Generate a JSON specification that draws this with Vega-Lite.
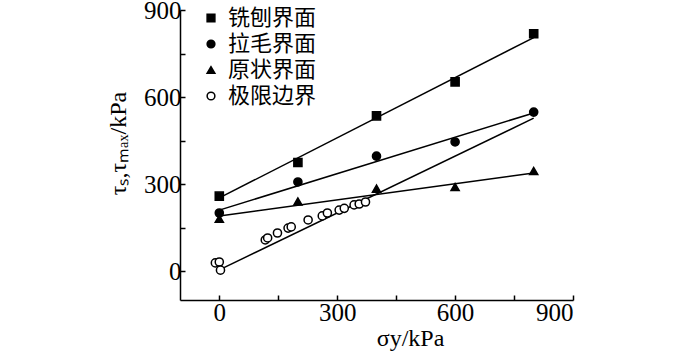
{
  "$schema": "https://vega.github.io/schema/vega-lite/v6.json",
  "autosize": {"type": "none"},
  "padding": {"left": 180, "top": 10, "right": 127, "bottom": 53},
  "width": 393,
  "height": 290,
  "background": "white",
  "config": {
    "view": {"stroke": null},
    "axis": {
      "domainColor": "black", "domainWidth": 1.5, "tickColor": "black", "tickWidth": 1.5,
      "grid": false, "labelFont": "Liberation Serif", "labelFontSize": 25, "labelColor": "black",
      "titleFont": "Liberation Serif", "titleFontSize": 24, "titleFontWeight": "normal", "titleColor": "black"
    }
  },
  "datasets": {
    "pts": [
      {"s": "铣刨界面", "x": 0, "y": 258},
      {"s": "铣刨界面", "x": 200, "y": 374},
      {"s": "铣刨界面", "x": 400, "y": 535},
      {"s": "铣刨界面", "x": 600, "y": 652},
      {"s": "铣刨界面", "x": 800, "y": 818},
      {"s": "拉毛界面", "x": 0, "y": 200},
      {"s": "拉毛界面", "x": 200, "y": 307},
      {"s": "拉毛界面", "x": 400, "y": 396},
      {"s": "拉毛界面", "x": 600, "y": 445},
      {"s": "拉毛界面", "x": 800, "y": 548},
      {"s": "原状界面", "x": 0, "y": 180},
      {"s": "原状界面", "x": 200, "y": 240},
      {"s": "原状界面", "x": 400, "y": 284},
      {"s": "原状界面", "x": 600, "y": 290},
      {"s": "原状界面", "x": 800, "y": 345},
      {"s": "极限边界", "x": -10, "y": 28},
      {"s": "极限边界", "x": 0, "y": 31},
      {"s": "极限边界", "x": 3, "y": 3},
      {"s": "极限边界", "x": 117, "y": 107},
      {"s": "极限边界", "x": 123, "y": 114},
      {"s": "极限边界", "x": 148, "y": 131},
      {"s": "极限边界", "x": 175, "y": 148},
      {"s": "极限边界", "x": 183, "y": 152},
      {"s": "极限边界", "x": 226, "y": 176},
      {"s": "极限边界", "x": 262, "y": 190},
      {"s": "极限边界", "x": 275, "y": 200},
      {"s": "极限边界", "x": 305, "y": 210},
      {"s": "极限边界", "x": 318, "y": 216},
      {"s": "极限边界", "x": 343, "y": 228},
      {"s": "极限边界", "x": 356, "y": 231},
      {"s": "极限边界", "x": 372, "y": 238}
    ],
    "fits": [
      {"s": "铣刨界面", "x": 0, "y": 252},
      {"s": "铣刨界面", "x": 800, "y": 805},
      {"s": "拉毛界面", "x": 0, "y": 210},
      {"s": "拉毛界面", "x": 800, "y": 545},
      {"s": "原状界面", "x": 0, "y": 190},
      {"s": "原状界面", "x": 800, "y": 338},
      {"s": "极限边界", "x": 0, "y": 4},
      {"s": "极限边界", "x": 800, "y": 527}
    ]
  },
  "layer": [
    {
      "data": {"name": "fits"},
      "mark": {"type": "line", "color": "black", "strokeWidth": 1.5},
      "encoding": {
        "x": {"field": "x", "type": "quantitative", "scale": {"domain": [-100, 900], "nice": false, "zero": false},
          "axis": {"values": [0, 150, 300, 450, 600, 750, 900], "labelExpr": "datum.value % 300 === 0 ? datum.label : ''",
            "tickSize": -5, "labelPadding": 5, "title": "σy/kPa", "titleX": 230, "titleY": 38, "titleBaseline": "middle"}},
        "y": {"field": "y", "type": "quantitative", "scale": {"domain": [-100, 900], "nice": false, "zero": false},
          "axis": {"values": [0, 150, 300, 450, 600, 750, 900], "labelExpr": "datum.value % 300 === 0 ? datum.label : ''",
            "tickSize": -5, "labelPadding": 4, "title": "τₛ,τₘₐₓ/kPa", "titleX": -62, "titleY": 133, "titleBaseline": "middle"}},
        "detail": {"field": "s"}
      }
    },
    {
      "data": {"name": "pts"},
      "mark": {"type": "point", "filled": true, "strokeWidth": 1.5, "opacity": 1, "size": 66},
      "encoding": {
        "x": {"field": "x", "type": "quantitative"},
        "y": {"field": "y", "type": "quantitative"},
        "shape": {"field": "s", "type": "nominal",
          "scale": {"domain": ["铣刨界面", "拉毛界面", "原状界面", "极限边界"], "range": ["square", "circle", "triangle-up", "circle"]},
          "legend": {"title": null, "orient": "none", "legendX": 20, "legendY": -3, "padding": 0,
            "labelFont": "Noto Sans CJK SC", "labelFontSize": 22, "labelColor": "black", "labelOffset": 6,
            "rowPadding": 4, "symbolSize": 60, "symbolStrokeWidth": 1.5}},
        "fill": {"field": "s", "type": "nominal",
          "scale": {"domain": ["铣刨界面", "拉毛界面", "原状界面", "极限边界"], "range": ["black", "black", "black", "white"]}},
        "stroke": {"field": "s", "type": "nominal",
          "scale": {"domain": ["铣刨界面", "拉毛界面", "原状界面", "极限边界"], "range": ["black", "black", "black", "black"]}}
      }
    }
  ]
}
